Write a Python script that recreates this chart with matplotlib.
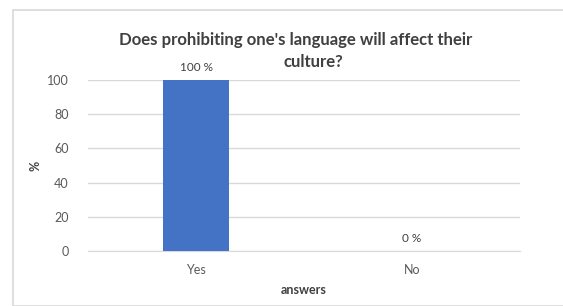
import matplotlib.pyplot as plt
from matplotlib.patches import Rectangle

categories = ["Yes", "No"]
percentages = [100, 0]
y_ticks = [0, 20, 40, 60, 80, 100]
title_lines = ["Does prohibiting one's language will affect their", "culture?"]

fig = plt.figure(figsize=(5.63, 3.06), dpi=100)
plt.rcParams["font.family"] = ["Lato", "DejaVu Sans"]

# outer chart frame
fig.patches.append(Rectangle((12.5 / 563, 0), 1.0, 1 - 9.5 / 306, transform=fig.transFigure,
                             fill=False, edgecolor="#d9d9d9", linewidth=1.2))

ax = fig.add_axes([88 / 563, 1 - 251 / 306, 432 / 563, 171 / 306])
x = range(len(categories))
bars = ax.bar(x, percentages, width=0.31, color="#4472c4", zorder=3)

for b, v in zip(bars, percentages):
    ax.text(b.get_x() + b.get_width() / 2, v + 4, f"{v} %", ha="center", va="bottom",
            fontsize=8.5, color="#404040")

ax.set_xlim(-0.5, 1.5)
ax.set_ylim(0, 100)
ax.set_yticks(y_ticks)
ax.set_xticks(list(x))
ax.set_xticklabels(categories)
ax.grid(axis="y", color="#d9d9d9", linewidth=1, zorder=0)
for s in ["top", "right", "left"]:
    ax.spines[s].set_visible(False)
ax.spines["bottom"].set_color("#d9d9d9")
ax.tick_params(length=0, labelsize=9, colors="#595959")
ax.tick_params(axis="y", pad=14)
ax.tick_params(axis="x", pad=9)
ax.set_xlabel("answers", fontsize=9, fontweight="bold", color="#404040", labelpad=6)
ax.set_ylabel("%", fontsize=9, fontweight="bold", color="#404040", labelpad=4)

# title, two wrapped lines as in the original
fig.text(296 / 563, 1 - 40 / 306, title_lines[0], ha="center", va="center",
         fontsize=12.1, fontweight="bold", color="#404040")
fig.text(313 / 563, 1 - 62 / 306, title_lines[1], ha="center", va="center",
         fontsize=12.1, fontweight="bold", color="#404040")

plt.savefig("out.png", dpi=100)
plt.close()
